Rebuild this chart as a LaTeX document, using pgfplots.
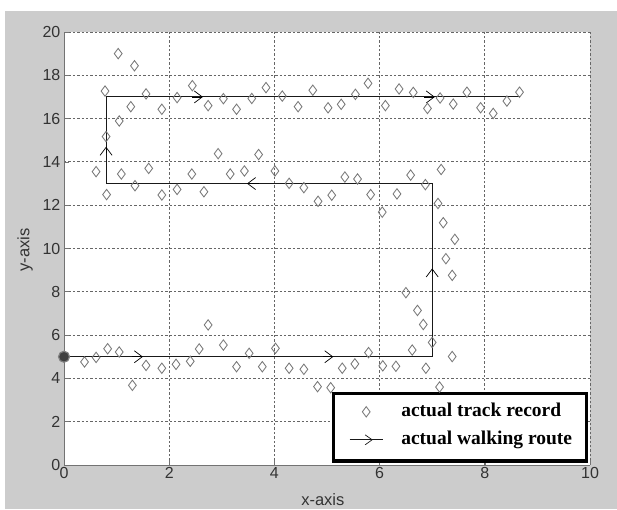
\documentclass[border=0pt]{standalone}
\usepackage{pgfplots}
\pgfplotsset{compat=1.18}
\usetikzlibrary{arrows.meta}
\usepackage{fontspec}
\setmainfont{Liberation Sans}
\newfontfamily\legfont{Liberation Serif}
\definecolor{figgray}{RGB}{204,204,204}
\definecolor{mkgray}{RGB}{120,120,120}
\pgfplotsset{
  diamlegend/.style={legend image code/.code={\path[draw=none,fill=none] (0pt,-6pt) rectangle (33pt,6pt);
     \draw[##1] plot coordinates {(16.5pt,0pt)};}},
  routelegend/.style={legend image code/.code={\draw[##1] (0pt,0pt) -- (33pt,0pt);
     \draw[##1, line width=0.7pt, -{Straight Barb[length=7pt,width=10pt]}] (17pt,0pt) -- (23pt,0pt);}},
  dirarrow/.style={forget plot, black, line width=0.7pt, -{Straight Barb[length=8pt,width=12pt]}},
}
\begin{document}
\begin{tikzpicture}[x=1pt,y=1pt]
\fill[white] (0,0) rectangle (617,509);
\fill[figgray] (5,0) rectangle (617,498);
\begin{axis}[
  at={(64pt,44pt)}, anchor=south west,
  width=526pt, height=433pt, scale only axis,
  xmin=0, xmax=10, ymin=0, ymax=20,
  xtick={0,2,...,10}, ytick={0,2,...,20},
  axis background/.style={fill=white},
  axis x line=bottom, axis y line=left,
  axis line style={-, draw=black!55, line width=0.8pt},
  tick align=inside, major tick length=5pt,
  tick style={black!55, line width=0.6pt},
  grid=major,
  major grid style={black!60, line width=0.9pt, dash pattern=on 2.4pt off 2pt},
  ticklabel style={font=\fontsize{16}{16}\selectfont, text=black!80},
  /pgf/number format/assume math mode=true,
  xticklabel style={inner sep=2pt},
  yticklabel style={inner sep=3.5pt},
  xlabel={x-axis}, ylabel={y-axis},
  label style={font=\fontsize{16.5}{16.5}\selectfont, text=black!80},
  x label style={at={(axis description cs:0.492,-0.0808)}, anchor=center},
  y label style={at={(axis description cs:-0.0741,0.4965)}, anchor=center},
  clip=false,
  legend style={draw=none, fill=none, at={(axis description cs:0.5418,0.0905)}, anchor=west,
    inner sep=0pt, row sep=9pt, column sep=18pt,
    font=\legfont\bfseries\fontsize{19.5}{19.5}\selectfont,
    nodes={inner sep=0pt, text height=14pt, text depth=5pt, anchor=west}},
  legend cell align=left,
]
% actual track record
\addplot[only marks, mark=diamond, mark size=5.2pt,
  mark options={draw=mkgray, line width=0.85pt, fill=none}, diamlegend]
coordinates {
(1.03,19.0) (1.34,18.44) (0.78,17.27) (1.56,17.14) (1.27,16.55) (1.05,15.89)
(1.86,16.43) (2.15,16.97) (2.44,17.52) (2.74,16.60) (3.03,16.92) (3.28,16.43)
(3.57,16.93) (3.84,17.43) (4.15,17.04) (4.45,16.55) (4.73,17.31) (5.02,16.50)
(5.27,16.66) (5.54,17.12) (5.78,17.63) (6.11,16.60) (6.37,17.37) (6.64,17.21)
(6.91,16.47) (7.15,16.95) (7.40,16.67) (7.66,17.22) (7.92,16.50) (8.16,16.24)
(8.42,16.81) (8.66,17.22)
(0.80,15.17) (0.61,13.55)
(1.09,13.44) (1.61,13.70) (2.43,13.44) (2.93,14.38) (3.16,13.44) (3.43,13.58)
(0.81,12.49) (1.35,12.90) (1.86,12.47) (2.15,12.73) (2.66,12.62) (3.70,14.34)
(4.01,13.58) (4.28,13.01) (4.56,12.81) (4.83,12.18) (5.09,12.46) (5.34,13.30)
(5.58,13.21) (5.83,12.49) (6.33,12.52) (6.59,13.39) (6.87,12.95) (7.17,13.65)
(7.11,12.08) (6.05,11.68)
(7.21,11.19) (7.43,10.42) (7.26,9.53) (7.38,8.76) (6.50,7.96) (6.72,7.14)
(6.83,6.49) (7.00,5.66) (6.62,5.31) (7.38,5.01) (6.88,4.47) (6.31,4.56)
(6.06,4.58) (7.14,3.60)
(0.39,4.76) (0.61,4.97) (0.83,5.37) (1.05,5.22) (1.30,3.68) (1.56,4.60)
(1.86,4.47) (2.13,4.65) (2.40,4.79) (2.57,5.36) (2.74,6.47) (3.03,5.54)
(3.28,4.54) (3.52,5.16) (3.77,4.54) (4.02,5.39) (4.28,4.47) (4.56,4.42)
(4.82,3.62) (5.07,3.57) (5.29,4.47) (5.53,4.67) (5.79,5.19)
};
\addlegendentry{actual track record}
% start point cluster
\addplot[forget plot, only marks, mark=*, mark size=5.5pt,
  mark options={fill=black!75, draw=black!50, line width=1.2pt}] coordinates {(0,5)};
% actual walking route
\addplot[black!90, line width=1.1pt, routelegend]
coordinates {(0,5) (7,5) (7,13) (0.8,13) (0.8,17) (8.66,17)};
\addlegendentry{actual walking route}
% direction arrows
\addplot[dirarrow] coordinates {(1.3,5) (1.5,5)};
\addplot[dirarrow] coordinates {(4.92,5) (5.12,5)};
\addplot[dirarrow] coordinates {(7,8.8) (7,9.08)};
\addplot[dirarrow] coordinates {(3.7,13) (3.48,13)};
\addplot[dirarrow] coordinates {(0.8,14.4) (0.8,14.7)};
\addplot[dirarrow] coordinates {(2.44,17) (2.64,17)};
\addplot[dirarrow] coordinates {(6.85,17) (7.05,17)};
% legend frame
\filldraw[fill=white, draw=black, line width=3.3pt] (axis cs:5.12,0.185) rectangle (axis cs:9.936,3.30);
\end{axis}
\end{tikzpicture}
\end{document}
